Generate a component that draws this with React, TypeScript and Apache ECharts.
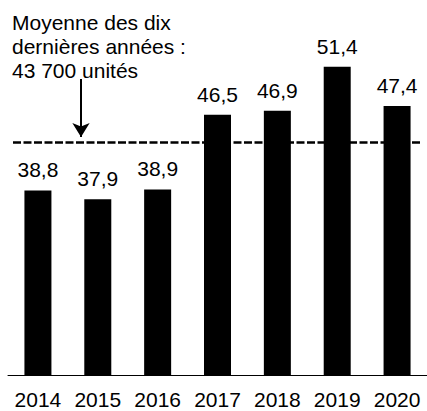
import React, { useEffect, useRef } from "react";
import * as echarts from "echarts";

const years = ["2014", "2015", "2016", "2017", "2018", "2019", "2020"];
const values = [38.8, 37.9, 38.9, 46.5, 46.9, 51.4, 47.4];
const average = 43.7;
const annotationLines = ["Moyenne des dix", "dernières années :", "43 700 unités"];

const FONT = "'Liberation Sans', Arial, sans-serif";
const FS = 21;

export default function App() {
  const ref = useRef<HTMLDivElement>(null);
  useEffect(() => {
    if (!ref.current) return;
    const chart = echarts.init(ref.current, undefined, { renderer: "svg" });
    chart.setOption({
      animation: false,
      backgroundColor: "#ffffff",
      textStyle: { fontFamily: FONT },
      grid: { left: 8, width: 423.5, top: 31.3, bottom: 36, containLabel: false },
      xAxis: {
        type: "category",
        data: years,
        axisLine: { show: true, lineStyle: { color: "#000", width: 1 } },
        axisTick: { show: false },
        axisLabel: {
          color: "#000",
          fontSize: FS,
          fontFamily: FONT,
          margin: 14,
          interval: 0,
          hideOverlap: false,
        },
      },
      yAxis: {
        type: "value",
        min: 20,
        max: 55,
        show: false,
        splitLine: { show: false },
      },
      graphic: [
        {
          type: "text",
          left: 12,
          top: 10,
          style: {
            text: annotationLines.join("\n"),
            font: `${FS}px ${FONT}`,
            fill: "#000",
            lineHeight: 24,
          },
        },
      ],
      series: [
        {
          type: "bar",
          data: values,
          barWidth: 27,
          itemStyle: { color: "#000" },
          label: {
            show: true,
            position: "top",
            distance: 10,
            color: "#000",
            fontSize: FS,
            fontFamily: FONT,
            formatter: (p: any) => String(p.value).replace(".", ","),
          },
          markLine: {
            silent: true,
            symbol: ["none", "none"],
            label: { show: false },
            data: [
              [
                { x: 13, yAxis: average, lineStyle: { type: [8, 2.5], width: 2.5, color: "#000" } },
                { x: 422, yAxis: average },
              ],
              [
                {
                  x: 81,
                  y: 79,
                  symbol: "none",
                  lineStyle: { type: "solid", width: 2, color: "#000" },
                },
                { x: 81, y: 137, symbol: "arrow", symbolSize: [13, 14] },
              ],
            ],
          },
        },
      ],
    });
    return () => chart.dispose();
  }, []);
  return <div ref={ref} style={{ width: 427, height: 411, position: "absolute", left: 0, top: 0 }} />;
}
